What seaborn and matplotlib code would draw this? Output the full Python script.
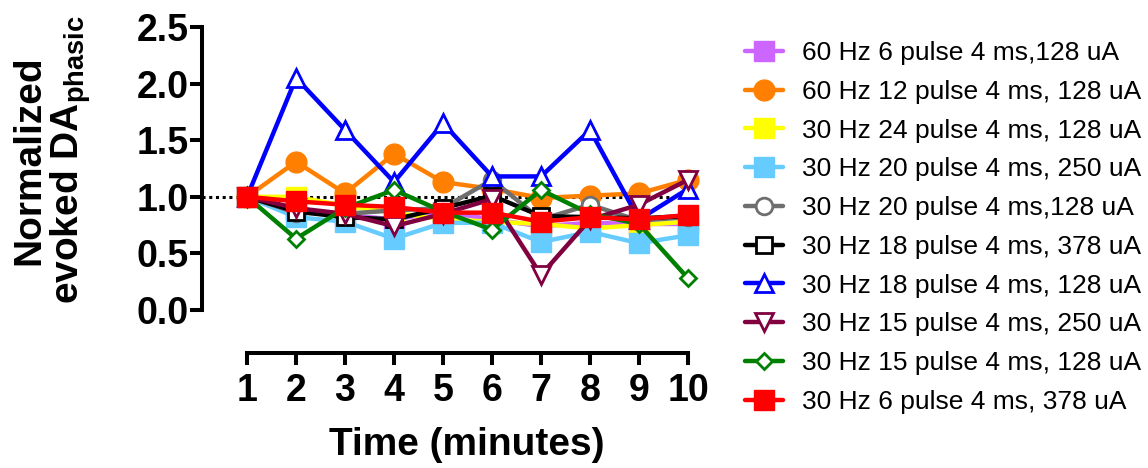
import pandas as pd
import matplotlib
matplotlib.use("Agg")
import matplotlib.pyplot as plt
import seaborn as sns

minutes = [1, 2, 3, 4, 5, 6, 7, 8, 9, 10]

labels = ["60 Hz 6 pulse 4 ms,128 uA",
          "60 Hz 12 pulse 4 ms, 128 uA",
          "30 Hz 24 pulse 4 ms, 128 uA",
          "30 Hz 20 pulse 4 ms, 250 uA",
          "30 Hz 20 pulse 4 ms,128 uA",
          "30 Hz 18 pulse 4 ms, 378 uA",
          "30 Hz 18 pulse 4 ms, 128 uA",
          "30 Hz 15 pulse 4 ms, 250 uA",
          "30 Hz 15 pulse 4 ms, 128 uA",
          "30 Hz 6 pulse 4 ms, 378 uA"]

hz60_p6_128 = [1.0, 0.88, 0.84, 0.80, 0.87, 0.80, 0.74, 0.77, 0.76, 0.76]
hz60_p12_128 = [1.0, 1.31, 1.03, 1.38, 1.13, 1.07, 0.99, 1.01, 1.03, 1.15]
hz30_p24_128 = [1.0, 1.00, 0.92, 0.86, 0.80, 0.78, 0.76, 0.72, 0.75, 0.78]
hz30_p20_250 = [1.0, 0.82, 0.78, 0.63, 0.77, 0.77, 0.60, 0.69, 0.59, 0.66]
hz30_p20_128 = [1.0, 0.86, 0.85, 0.88, 0.90, 1.15, 0.80, 0.93, 0.79, 0.82]
hz30_p18_378 = [1.0, 0.87, 0.82, 0.80, 0.90, 1.01, 0.83, 0.82, 0.81, 0.83]
hz30_p18_128 = [1.0, 2.05, 1.59, 1.13, 1.65, 1.18, 1.18, 1.59, 0.80, 1.07]
hz30_p15_250 = [1.0, 0.90, 0.85, 0.74, 0.85, 0.98, 0.31, 0.80, 0.93, 1.15]
hz30_p15_128 = [1.0, 0.63, 0.90, 1.06, 0.87, 0.71, 1.06, 0.85, 0.76, 0.28]
hz30_p6_378 = [1.0, 0.96, 0.93, 0.91, 0.86, 0.86, 0.78, 0.82, 0.80, 0.84]

series = [hz60_p6_128, hz60_p12_128, hz30_p24_128, hz30_p20_250, hz30_p20_128,
          hz30_p18_378, hz30_p18_128, hz30_p15_250, hz30_p15_128, hz30_p6_378]

# colour, marker, size, filled
styles = [("#CC66FF", "s", 14, True),
          ("#FF8000", "o", 15, True),
          ("#FFFF00", "s", 14, True),
          ("#66CCFF", "s", 14, True),
          ("#6E6E6E", "o", 12, False),
          ("#000000", "s", 11, False),
          ("#0000FF", "^", 13, False),
          ("#800040", "v", 13, False),
          ("#008000", "D", 8.5, False),
          ("#FF0000", "s", 14, True)]

rows = []
for lab, vals in zip(labels, series):
    for t, v in zip(minutes, vals):
        rows.append({"minute": t, "value": v, "condition": lab})
df = pd.DataFrame(rows)

sns.set_style("white")
plt.rcParams["font.family"] = ["Liberation Sans", "DejaVu Sans"]
plt.rcParams["mathtext.fontset"] = "custom"
plt.rcParams["mathtext.bf"] = "Liberation Sans:bold"
plt.rcParams["mathtext.rm"] = "Liberation Sans:bold"
plt.rcParams["text.color"] = "black"
plt.rcParams["axes.labelcolor"] = "black"

fig = plt.figure(figsize=(11.48, 4.68), dpi=100)
ax = fig.add_axes([202 / 1148, 1 - 310 / 468, (688 - 202) / 1148, (310 - 27) / 468])

ax.plot([0.08, 10], [1, 1], color="black", linestyle=(0, (1, 1.2)), linewidth=2.2, zorder=1)

for lab, (col, mk, ms, filled) in zip(labels, styles):
    sub = df[df["condition"] == lab]
    sns.lineplot(data=sub, x="minute", y="value", ax=ax, color=col, linewidth=3.2,
                 marker=mk, markersize=ms, markeredgecolor=col,
                 markerfacecolor=col if filled else "white",
                 markeredgewidth=1.0 if filled else 2.0,
                 label=lab, clip_on=False, zorder=3)

ax.set_xlim(0.08, 10)
ax.set_ylim(0, 2.5)
ax.set_xticks(minutes)
ax.set_yticks([0.0, 0.5, 1.0, 1.5, 2.0, 2.5])
ax.set_yticklabels(["0.0", "0.5", "1.0", "1.5", "2.0", "2.5"])

for side in ["top", "right"]:
    ax.spines[side].set_visible(False)
for side in ["left", "bottom"]:
    ax.spines[side].set_linewidth(2.9)
    ax.spines[side].set_color("black")
ax.spines["left"].set_bounds(0, 2.5)
ax.spines["bottom"].set_bounds(1, 10)
ax.spines["bottom"].set_position(("outward", 31))
ax.tick_params(axis="both", which="major", bottom=True, left=True, direction="out",
               length=8.5, width=2.9, labelsize=27, colors="black")
ax.tick_params(axis="y", pad=1)
ax.tick_params(axis="x", pad=6)
for lbl in ax.get_xticklabels() + ax.get_yticklabels():
    lbl.set_fontweight("bold")

ax.set_xlabel("Time (minutes)", fontsize=28, fontweight="bold")
ax.set_ylabel("Normalized\nevoked DA$_{\\mathbf{phasic}}$", fontsize=28, fontweight="bold", linespacing=1.05)
ax.xaxis.set_label_coords((467 - 202) / (688 - 202), -(445 - 310) / (310 - 27), transform=ax.transAxes)
ax.xaxis.label.set_verticalalignment("center")
ax.yaxis.set_label_coords(-(202 - 52) / (688 - 202), (310 - 160) / (310 - 27))
ax.yaxis.label.set_verticalalignment("center")

ax.legend_.remove()
handles, hlabels = ax.get_legend_handles_labels()
handles = [h for h, l in zip(handles, hlabels) if l in labels]
fig.legend(handles, labels, loc="upper left", bbox_to_anchor=(745 / 1148, 1 - 41 / 468),
           frameon=False, fontsize=19, handlelength=1.45, handletextpad=0.72,
           labelspacing=0.56, borderpad=0, borderaxespad=0)

fig.savefig("out.png", dpi=100)
